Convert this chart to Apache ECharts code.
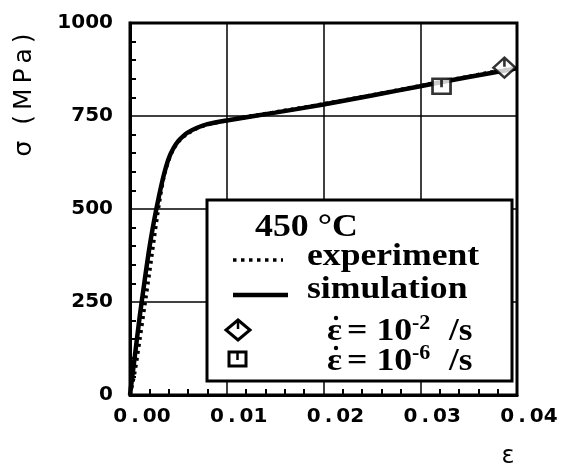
<!DOCTYPE html>
<html>
<head>
<meta charset="utf-8">
<script src="https://cdn.jsdelivr.net/npm/echarts@6/dist/echarts.min.js"></script>
<style>
html,body{margin:0;padding:0;background:#fff;}
#chart{width:566px;height:474px;}
</style>
</head>
<body>
<div id="chart"></div>
<script>
// strain values (shared by both curves)
var strain = [0, 0.0005, 0.001, 0.0015, 0.002, 0.0025, 0.003, 0.0035, 0.004, 0.0045, 0.005, 0.0055, 0.006, 0.007, 0.008, 0.01, 0.015, 0.02, 0.025, 0.03, 0.035, 0.04];
// stress (MPa), experiment (dotted)
var experiment = [0, 65, 150, 240, 330, 425, 515, 588, 632, 662, 681, 694, 704, 718, 727, 738, 760, 782, 806, 831, 856, 880];
// stress (MPa), simulation (solid)
var simulation = [0, 105, 210, 305, 395, 470, 535, 592, 636, 664, 683, 696, 706, 719, 728, 738, 759, 781, 805, 830, 855, 878];
// marker points [strain, stress]
var rateFast = [[0.0387, 880]];   // 10^-2 /s (diamond)
var rateSlow = [[0.0322, 830]];   // 10^-6 /s (square)
// axis ticks
var xTicks = { min: 0, max: 0.04, interval: 0.01 };
var yTicks = { min: 0, max: 1000, interval: 250 };

var diamondPath = 'path://M0,-10L12,0L0,10L-12,0Z M0,-10L0,-1';
var squarePath = 'path://M-10,-8L10,-8L10,8L-10,8Z M0,-8L0,1';

function pairs(ys) { return strain.map(function (x, i) { return [x, ys[i]]; }); }

var chart = echarts.init(document.getElementById('chart'), null, { renderer: 'canvas' });
var labelFont = { fontFamily: 'DejaVu Sans', fontWeight: 'bold', fontSize: 20, color: '#000' };
var serif = '"Liberation Serif", "Times New Roman", serif';

chart.setOption({
  animation: false,
  backgroundColor: '#fff',
  grid: { left: 130, right: 49, top: 23, bottom: 79, show: true, borderColor: '#000', borderWidth: 3, backgroundColor: 'transparent' },
  xAxis: {
    type: 'value', min: xTicks.min, max: xTicks.max, interval: xTicks.interval,
    axisLine: { show: true, lineStyle: { color: '#000', width: 3 } },
    axisTick: { show: false, inside: true },
    minorTick: { show: true, splitNumber: 5, length: 6, lineStyle: { color: '#000', width: 2 } },
    splitLine: { show: true, lineStyle: { color: '#000', width: 1.5 } },
    axisLabel: Object.assign({ margin: 12, padding: [0, 0, 0, 24], formatter: function (v) { return v.toFixed(2).replace('.', '\u2009.\u2009'); } }, labelFont)
  },
  yAxis: {
    type: 'value', min: yTicks.min, max: yTicks.max, interval: yTicks.interval,
    axisLine: { show: true, lineStyle: { color: '#000', width: 3 } },
    axisTick: { show: false, inside: true },
    minorTick: { show: true, splitNumber: 5, length: 6, lineStyle: { color: '#000', width: 2 } },
    splitLine: { show: true, lineStyle: { color: '#000', width: 1.5 } },
    axisLabel: Object.assign({ margin: 17, formatter: function (v) { return String(v); } }, labelFont)
  },
  series: [
    { name: 'experiment', type: 'line', data: pairs(experiment), showSymbol: false, smooth: 0.3,
      lineStyle: { color: '#000', width: 4, type: [3, 4] }, z: 3 },
    { name: 'simulation', type: 'line', data: pairs(simulation), showSymbol: false, smooth: 0.3,
      lineStyle: { color: '#000', width: 4.5 }, z: 4 },
    { name: 'rate 1e-2', type: 'scatter', data: rateFast, symbol: diamondPath, symbolSize: [22, 20],
      itemStyle: { color: '#fff', borderColor: '#000', borderWidth: 2.5 }, z: 6 },
    { name: 'rate 1e-6', type: 'scatter', data: rateSlow, symbol: squarePath, symbolSize: [18, 15],
      itemStyle: { color: '#fff', borderColor: '#000', borderWidth: 2.5 }, z: 6 }
  ],
  graphic: [
    { type: 'text', x: 24, y: 95, rotation: Math.PI / 2, z: 10,
      style: { text: 'σ  (\u2009M\u2009P\u2009a\u2009)', font: '25px "DejaVu Sans"', fill: '#000', textAlign: 'center', textVerticalAlign: 'middle' } },
    { type: 'text', x: 508, y: 457, z: 10,
      style: { text: 'ε', font: '24px "DejaVu Sans"', fill: '#000', textAlign: 'center', textVerticalAlign: 'middle' } },
    { type: 'group', z: 100, children: [
      { type: 'rect', shape: { x: 207, y: 200, width: 305, height: 181 }, z: 100,
        style: { fill: '#fff', stroke: '#000', lineWidth: 3 } },
      { type: 'text', x: 255, y: 228, scaleX: 1.12, z: 101,
        style: { text: '450 °C', font: 'bold 32px ' + serif, fill: '#000', textVerticalAlign: 'middle' } },
      { type: 'line', shape: { x1: 233, y1: 260, x2: 283, y2: 260 }, z: 101,
        style: { stroke: '#000', lineWidth: 3.5, lineDash: [3.5, 4.5] } },
      { type: 'text', x: 307, y: 257, scaleX: 1.15, z: 101,
        style: { text: 'experiment', font: 'bold 31px ' + serif, fill: '#000', textVerticalAlign: 'middle' } },
      { type: 'line', shape: { x1: 233, y1: 295, x2: 288, y2: 295 }, z: 101,
        style: { stroke: '#000', lineWidth: 4.5 } },
      { type: 'text', x: 307, y: 290, scaleX: 1.15, z: 101,
        style: { text: 'simulation', font: 'bold 31px ' + serif, fill: '#000', textVerticalAlign: 'middle' } },
      // diamond legend marker
      { type: 'polygon', z: 101, shape: { points: [[238, 320], [250, 330], [238, 340], [226, 330]] },
        style: { fill: '#fff', stroke: '#000', lineWidth: 3 } },
      { type: 'line', z: 102, shape: { x1: 238, y1: 320, x2: 238, y2: 329 }, style: { stroke: '#000', lineWidth: 2.5 } },
      // square legend marker
      { type: 'rect', z: 101, shape: { x: 229, y: 352, width: 17, height: 14 },
        style: { fill: '#fff', stroke: '#000', lineWidth: 3 } },
      { type: 'line', z: 102, shape: { x1: 237.5, y1: 352, x2: 237.5, y2: 360 }, style: { stroke: '#000', lineWidth: 2.5 } },
      // rate 10^-2
      { type: 'text', x: 327, y: 332, scaleX: 1.1, z: 101,
        style: { text: 'ε', font: 'bold 32px ' + serif, fill: '#000', textVerticalAlign: 'middle' } },
      { type: 'circle', shape: { cx: 336, cy: 318, r: 2.2 }, z: 103, style: { fill: '#000' } },
      { type: 'text', x: 347, y: 332, scaleX: 1.12, z: 101,
        style: { text: '= 10', font: 'bold 32px ' + serif, fill: '#000', textVerticalAlign: 'middle' } },
      { type: 'text', x: 412, y: 323, z: 101,
        style: { text: '-2', font: 'bold 22px ' + serif, fill: '#000', textVerticalAlign: 'middle' } },
      { type: 'text', x: 449, y: 332, scaleX: 1.1, z: 101,
        style: { text: '/s', font: 'bold 32px ' + serif, fill: '#000', textVerticalAlign: 'middle' } },
      // rate 10^-6
      { type: 'text', x: 327, y: 362, scaleX: 1.1, z: 101,
        style: { text: 'ε', font: 'bold 32px ' + serif, fill: '#000', textVerticalAlign: 'middle' } },
      { type: 'circle', shape: { cx: 336, cy: 348, r: 2.2 }, z: 103, style: { fill: '#000' } },
      { type: 'text', x: 347, y: 362, scaleX: 1.12, z: 101,
        style: { text: '= 10', font: 'bold 32px ' + serif, fill: '#000', textVerticalAlign: 'middle' } },
      { type: 'text', x: 412, y: 353, z: 101,
        style: { text: '-6', font: 'bold 22px ' + serif, fill: '#000', textVerticalAlign: 'middle' } },
      { type: 'text', x: 449, y: 362, scaleX: 1.1, z: 101,
        style: { text: '/s', font: 'bold 32px ' + serif, fill: '#000', textVerticalAlign: 'middle' } }
    ] }
  ]
});
</script>
</body>
</html>
